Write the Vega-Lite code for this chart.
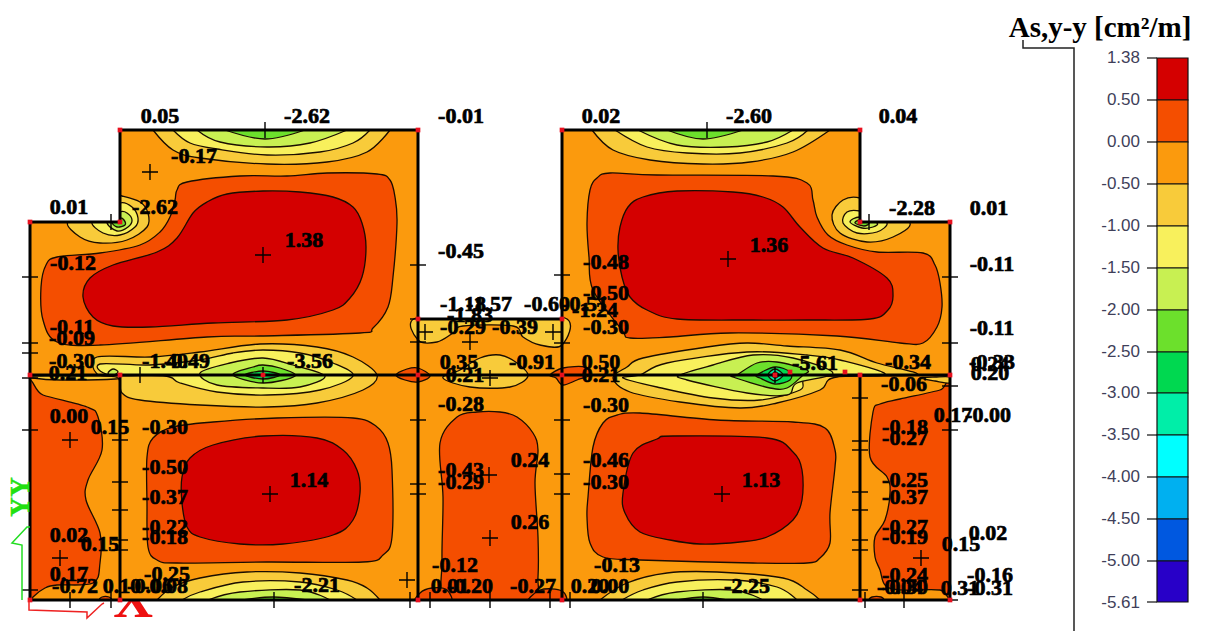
{"$schema":"https://vega.github.io/schema/vega-lite/v6.json","width":1207,"height":631,"autosize":{"type":"none"},"padding":0,"background":"#ffffff","view":{"stroke":null},
"datasets":{
"plate":[{"x":31,"x2":949,"y":131,"y2":599,"band":"0.00"}],
"mask":[{"x":0,"x2":1000,"y":0,"y2":130},{"x":0,"x2":120,"y":130,"y2":222},{"x":860,"x2":1000,"y":130,"y2":222},{"x":418,"x2":562,"y":130,"y2":319},{"x":0,"x2":30,"y":222,"y2":631},{"x":950,"x2":1000,"y":222,"y2":631},{"x":0,"x2":108,"y":600,"y2":631},{"x":156,"x2":1000,"y":600,"y2":631}],
"closed":[
{"p":"a0","band":"0.50","x":177,"y":190},{"p":"a0","band":"0.50","x":187,"y":182},{"p":"a0","band":"0.50","x":240,"y":176},{"p":"a0","band":"0.50","x":287,"y":176},{"p":"a0","band":"0.50","x":327,"y":173},{"p":"a0","band":"0.50","x":377,"y":174},{"p":"a0","band":"0.50","x":390,"y":180},{"p":"a0","band":"0.50","x":395,"y":197},{"p":"a0","band":"0.50","x":397,"y":223},{"p":"a0","band":"0.50","x":393,"y":277},{"p":"a0","band":"0.50","x":388,"y":307},{"p":"a0","band":"0.50","x":373,"y":328},{"p":"a0","band":"0.50","x":360,"y":333},{"p":"a0","band":"0.50","x":260,"y":336},{"p":"a0","band":"0.50","x":207,"y":337},{"p":"a0","band":"0.50","x":100,"y":345},{"p":"a0","band":"0.50","x":57,"y":342},{"p":"a0","band":"0.50","x":43,"y":320},{"p":"a0","band":"0.50","x":41,"y":287},{"p":"a0","band":"0.50","x":46,"y":265},{"p":"a0","band":"0.50","x":57,"y":257},{"p":"a0","band":"0.50","x":100,"y":253},{"p":"a0","band":"0.50","x":140,"y":245},{"p":"a0","band":"0.50","x":160,"y":232},{"p":"a0","band":"0.50","x":170,"y":217},{"p":"a0","band":"0.50","x":175,"y":200},
{"p":"a1","band":"1.38","x":193,"y":213},{"p":"a1","band":"1.38","x":207,"y":202},{"p":"a1","band":"1.38","x":227,"y":194},{"p":"a1","band":"1.38","x":263,"y":191},{"p":"a1","band":"1.38","x":300,"y":192},{"p":"a1","band":"1.38","x":333,"y":197},{"p":"a1","band":"1.38","x":353,"y":207},{"p":"a1","band":"1.38","x":362,"y":223},{"p":"a1","band":"1.38","x":366,"y":247},{"p":"a1","band":"1.38","x":362,"y":277},{"p":"a1","band":"1.38","x":350,"y":298},{"p":"a1","band":"1.38","x":333,"y":310},{"p":"a1","band":"1.38","x":287,"y":320},{"p":"a1","band":"1.38","x":213,"y":323},{"p":"a1","band":"1.38","x":150,"y":327},{"p":"a1","band":"1.38","x":113,"y":326},{"p":"a1","band":"1.38","x":93,"y":317},{"p":"a1","band":"1.38","x":83,"y":297},{"p":"a1","band":"1.38","x":90,"y":278},{"p":"a1","band":"1.38","x":113,"y":265},{"p":"a1","band":"1.38","x":157,"y":252},{"p":"a1","band":"1.38","x":177,"y":238},
{"p":"n1","band":"-0.50","x":68,"y":222},{"p":"n1","band":"-0.50","x":80,"y":237},{"p":"n1","band":"-0.50","x":100,"y":243},{"p":"n1","band":"-0.50","x":127,"y":240},{"p":"n1","band":"-0.50","x":147,"y":227},{"p":"n1","band":"-0.50","x":148,"y":213},{"p":"n1","band":"-0.50","x":140,"y":202},{"p":"n1","band":"-0.50","x":122,"y":196},{"p":"n1","band":"-0.50","x":112,"y":195},{"p":"n1","band":"-0.50","x":100,"y":215},
{"p":"n2","band":"-1.00","x":92,"y":222},{"p":"n2","band":"-1.00","x":103,"y":233},{"p":"n2","band":"-1.00","x":120,"y":235},{"p":"n2","band":"-1.00","x":135,"y":227},{"p":"n2","band":"-1.00","x":138,"y":218},{"p":"n2","band":"-1.00","x":132,"y":207},{"p":"n2","band":"-1.00","x":120,"y":203},{"p":"n2","band":"-1.00","x":110,"y":214},
{"p":"n3","band":"-1.50","x":107,"y":222},{"p":"n3","band":"-1.50","x":117,"y":231},{"p":"n3","band":"-1.50","x":128,"y":227},{"p":"n3","band":"-1.50","x":132,"y":220},{"p":"n3","band":"-1.50","x":127,"y":213},{"p":"n3","band":"-1.50","x":120,"y":212},
{"p":"n4","band":"-2.00","x":112,"y":222},{"p":"n4","band":"-2.00","x":117,"y":227},{"p":"n4","band":"-2.00","x":125,"y":225},{"p":"n4","band":"-2.00","x":124,"y":220},{"p":"n4","band":"-2.00","x":120,"y":218},
{"p":"s0","band":"-0.50","x":33,"y":376},{"p":"s0","band":"-0.50","x":75,"y":376},{"p":"s0","band":"-0.50","x":115,"y":376},{"p":"s0","band":"-0.50","x":115,"y":379},{"p":"s0","band":"-0.50","x":60,"y":380},{"p":"s0","band":"-0.50","x":33,"y":378},
{"p":"s1","band":"-0.50","x":97,"y":357},{"p":"s1","band":"-0.50","x":150,"y":357},{"p":"s1","band":"-0.50","x":200,"y":352},{"p":"s1","band":"-0.50","x":260,"y":344},{"p":"s1","band":"-0.50","x":317,"y":347},{"p":"s1","band":"-0.50","x":353,"y":357},{"p":"s1","band":"-0.50","x":377,"y":375},{"p":"s1","band":"-0.50","x":363,"y":390},{"p":"s1","band":"-0.50","x":317,"y":403},{"p":"s1","band":"-0.50","x":267,"y":407},{"p":"s1","band":"-0.50","x":200,"y":405},{"p":"s1","band":"-0.50","x":140,"y":400},{"p":"s1","band":"-0.50","x":122,"y":393},{"p":"s1","band":"-0.50","x":118,"y":378},{"p":"s1","band":"-0.50","x":97,"y":374},
{"p":"s2","band":"-1.00","x":100,"y":364},{"p":"s2","band":"-1.00","x":150,"y":365},{"p":"s2","band":"-1.00","x":200,"y":360},{"p":"s2","band":"-1.00","x":233,"y":353},{"p":"s2","band":"-1.00","x":263,"y":350},{"p":"s2","band":"-1.00","x":300,"y":353},{"p":"s2","band":"-1.00","x":333,"y":363},{"p":"s2","band":"-1.00","x":353,"y":376},{"p":"s2","band":"-1.00","x":320,"y":390},{"p":"s2","band":"-1.00","x":267,"y":395},{"p":"s2","band":"-1.00","x":217,"y":392},{"p":"s2","band":"-1.00","x":180,"y":383},{"p":"s2","band":"-1.00","x":165,"y":376},{"p":"s2","band":"-1.00","x":110,"y":375},
{"p":"s6","band":"-1.50","x":108,"y":373},{"p":"s6","band":"-1.50","x":113,"y":369},{"p":"s6","band":"-1.50","x":118,"y":372},{"p":"s6","band":"-1.50","x":112,"y":376},
{"p":"s3","band":"-1.50","x":200,"y":373},{"p":"s3","band":"-1.50","x":230,"y":363},{"p":"s3","band":"-1.50","x":263,"y":358},{"p":"s3","band":"-1.50","x":293,"y":365},{"p":"s3","band":"-1.50","x":325,"y":376},{"p":"s3","band":"-1.50","x":300,"y":387},{"p":"s3","band":"-1.50","x":263,"y":388},{"p":"s3","band":"-1.50","x":217,"y":385},
{"p":"s4","band":"-2.00","x":233,"y":375},{"p":"s4","band":"-2.00","x":253,"y":367},{"p":"s4","band":"-2.00","x":263,"y":365},{"p":"s4","band":"-2.00","x":280,"y":368},{"p":"s4","band":"-2.00","x":295,"y":376},{"p":"s4","band":"-2.00","x":263,"y":383},
{"p":"s5","band":"-2.50","x":245,"y":375},{"p":"s5","band":"-2.50","x":263,"y":371},{"p":"s5","band":"-2.50","x":280,"y":375},{"p":"s5","band":"-2.50","x":263,"y":379},
{"p":"b1","band":"0.50","x":396,"y":375},{"p":"b1","band":"0.50","x":407,"y":369},{"p":"b1","band":"0.50","x":418,"y":368},{"p":"b1","band":"0.50","x":430,"y":376},{"p":"b1","band":"0.50","x":418,"y":382},{"p":"b1","band":"0.50","x":405,"y":380},
{"p":"b2","band":"0.50","x":550,"y":375},{"p":"b2","band":"0.50","x":563,"y":368},{"p":"b2","band":"0.50","x":585,"y":367},{"p":"b2","band":"0.50","x":590,"y":375},{"p":"b2","band":"0.50","x":577,"y":380},{"p":"b2","band":"0.50","x":563,"y":385},{"p":"b2","band":"0.50","x":556,"y":378},
{"p":"c1","band":"-0.50","x":480,"y":358},{"p":"c1","band":"-0.50","x":500,"y":355},{"p":"c1","band":"-0.50","x":517,"y":363},{"p":"c1","band":"-0.50","x":528,"y":376},{"p":"c1","band":"-0.50","x":510,"y":387},{"p":"c1","band":"-0.50","x":470,"y":387},{"p":"c1","band":"-0.50","x":443,"y":378},{"p":"c1","band":"-0.50","x":460,"y":370},
{"p":"c2","band":"-0.50","x":416,"y":318},{"p":"c2","band":"-0.50","x":490,"y":318},{"p":"c2","band":"-0.50","x":565,"y":318},{"p":"c2","band":"-0.50","x":562,"y":345},{"p":"c2","band":"-0.50","x":540,"y":345},{"p":"c2","band":"-0.50","x":523,"y":337},{"p":"c2","band":"-0.50","x":513,"y":326},{"p":"c2","band":"-0.50","x":463,"y":326},{"p":"c2","band":"-0.50","x":453,"y":333},{"p":"c2","band":"-0.50","x":437,"y":342},{"p":"c2","band":"-0.50","x":418,"y":340},
{"p":"c3","band":"0.50","x":440,"y":443},{"p":"c3","band":"0.50","x":457,"y":417},{"p":"c3","band":"0.50","x":477,"y":412},{"p":"c3","band":"0.50","x":500,"y":412},{"p":"c3","band":"0.50","x":517,"y":417},{"p":"c3","band":"0.50","x":533,"y":433},{"p":"c3","band":"0.50","x":538,"y":450},{"p":"c3","band":"0.50","x":535,"y":483},{"p":"c3","band":"0.50","x":538,"y":537},{"p":"c3","band":"0.50","x":538,"y":577},{"p":"c3","band":"0.50","x":534,"y":604},{"p":"c3","band":"0.50","x":490,"y":610},{"p":"c3","band":"0.50","x":445,"y":604},{"p":"c3","band":"0.50","x":442,"y":560},{"p":"c3","band":"0.50","x":443,"y":497},
{"p":"c4","band":"0.50","x":416,"y":604},{"p":"c4","band":"0.50","x":420,"y":593},{"p":"c4","band":"0.50","x":432,"y":588},{"p":"c4","band":"0.50","x":447,"y":590},{"p":"c4","band":"0.50","x":450,"y":604},
{"p":"c5","band":"0.50","x":528,"y":604},{"p":"c5","band":"0.50","x":540,"y":590},{"p":"c5","band":"0.50","x":562,"y":591},{"p":"c5","band":"0.50","x":564,"y":604},
{"p":"l1","band":"0.50","x":28,"y":387},{"p":"l1","band":"0.50","x":43,"y":395},{"p":"l1","band":"0.50","x":87,"y":407},{"p":"l1","band":"0.50","x":98,"y":417},{"p":"l1","band":"0.50","x":102,"y":450},{"p":"l1","band":"0.50","x":88,"y":480},{"p":"l1","band":"0.50","x":86,"y":500},{"p":"l1","band":"0.50","x":100,"y":533},{"p":"l1","band":"0.50","x":100,"y":563},{"p":"l1","band":"0.50","x":93,"y":583},{"p":"l1","band":"0.50","x":57,"y":585},{"p":"l1","band":"0.50","x":45,"y":588},{"p":"l1","band":"0.50","x":33,"y":597},{"p":"l1","band":"0.50","x":24,"y":610},{"p":"l1","band":"0.50","x":22,"y":500},
{"p":"q1","band":"0.50","x":100,"y":600},{"p":"q1","band":"0.50","x":102,"y":597},{"p":"q1","band":"0.50","x":109,"y":597},{"p":"q1","band":"0.50","x":111,"y":600},
{"p":"q2","band":"0.50","x":870,"y":600},{"p":"q2","band":"0.50","x":872,"y":597},{"p":"q2","band":"0.50","x":881,"y":597},{"p":"q2","band":"0.50","x":883,"y":600},
{"p":"d0","band":"0.50","x":147,"y":457},{"p":"d0","band":"0.50","x":153,"y":438},{"p":"d0","band":"0.50","x":173,"y":427},{"p":"d0","band":"0.50","x":213,"y":422},{"p":"d0","band":"0.50","x":277,"y":418},{"p":"d0","band":"0.50","x":353,"y":418},{"p":"d0","band":"0.50","x":377,"y":427},{"p":"d0","band":"0.50","x":388,"y":443},{"p":"d0","band":"0.50","x":392,"y":470},{"p":"d0","band":"0.50","x":392,"y":537},{"p":"d0","band":"0.50","x":383,"y":555},{"p":"d0","band":"0.50","x":363,"y":562},{"p":"d0","band":"0.50","x":267,"y":562},{"p":"d0","band":"0.50","x":177,"y":563},{"p":"d0","band":"0.50","x":157,"y":560},{"p":"d0","band":"0.50","x":148,"y":547},{"p":"d0","band":"0.50","x":147,"y":503},
{"p":"d1","band":"1.38","x":182,"y":477},{"p":"d1","band":"1.38","x":190,"y":458},{"p":"d1","band":"1.38","x":213,"y":445},{"p":"d1","band":"1.38","x":263,"y":436},{"p":"d1","band":"1.38","x":317,"y":438},{"p":"d1","band":"1.38","x":343,"y":450},{"p":"d1","band":"1.38","x":357,"y":470},{"p":"d1","band":"1.38","x":360,"y":493},{"p":"d1","band":"1.38","x":353,"y":520},{"p":"d1","band":"1.38","x":333,"y":535},{"p":"d1","band":"1.38","x":283,"y":544},{"p":"d1","band":"1.38","x":240,"y":544},{"p":"d1","band":"1.38","x":200,"y":537},{"p":"d1","band":"1.38","x":187,"y":527},{"p":"d1","band":"1.38","x":182,"y":503},
{"p":"e0","band":"0.50","x":588,"y":497},{"p":"e0","band":"0.50","x":593,"y":447},{"p":"e0","band":"0.50","x":603,"y":423},{"p":"e0","band":"0.50","x":617,"y":415},{"p":"e0","band":"0.50","x":640,"y":413},{"p":"e0","band":"0.50","x":717,"y":420},{"p":"e0","band":"0.50","x":793,"y":422},{"p":"e0","band":"0.50","x":825,"y":428},{"p":"e0","band":"0.50","x":835,"y":450},{"p":"e0","band":"0.50","x":835,"y":467},{"p":"e0","band":"0.50","x":830,"y":513},{"p":"e0","band":"0.50","x":830,"y":543},{"p":"e0","band":"0.50","x":820,"y":558},{"p":"e0","band":"0.50","x":807,"y":563},{"p":"e0","band":"0.50","x":753,"y":563},{"p":"e0","band":"0.50","x":640,"y":560},{"p":"e0","band":"0.50","x":603,"y":557},{"p":"e0","band":"0.50","x":590,"y":543},{"p":"e0","band":"0.50","x":587,"y":517},
{"p":"e1","band":"1.38","x":623,"y":493},{"p":"e1","band":"1.38","x":633,"y":453},{"p":"e1","band":"1.38","x":657,"y":439},{"p":"e1","band":"1.38","x":673,"y":436},{"p":"e1","band":"1.38","x":767,"y":438},{"p":"e1","band":"1.38","x":793,"y":452},{"p":"e1","band":"1.38","x":802,"y":470},{"p":"e1","band":"1.38","x":802,"y":500},{"p":"e1","band":"1.38","x":793,"y":520},{"p":"e1","band":"1.38","x":767,"y":537},{"p":"e1","band":"1.38","x":740,"y":542},{"p":"e1","band":"1.38","x":700,"y":544},{"p":"e1","band":"1.38","x":670,"y":540},{"p":"e1","band":"1.38","x":640,"y":532},{"p":"e1","band":"1.38","x":625,"y":513},
{"p":"f0","band":"0.50","x":952,"y":384},{"p":"f0","band":"0.50","x":940,"y":390},{"p":"f0","band":"0.50","x":900,"y":399},{"p":"f0","band":"0.50","x":880,"y":404},{"p":"f0","band":"0.50","x":873,"y":412},{"p":"f0","band":"0.50","x":870,"y":457},{"p":"f0","band":"0.50","x":887,"y":477},{"p":"f0","band":"0.50","x":890,"y":493},{"p":"f0","band":"0.50","x":885,"y":520},{"p":"f0","band":"0.50","x":875,"y":537},{"p":"f0","band":"0.50","x":875,"y":557},{"p":"f0","band":"0.50","x":880,"y":570},{"p":"f0","band":"0.50","x":885,"y":585},{"p":"f0","band":"0.50","x":900,"y":590},{"p":"f0","band":"0.50","x":940,"y":590},{"p":"f0","band":"0.50","x":955,"y":598},{"p":"f0","band":"0.50","x":962,"y":500},
{"p":"g0","band":"0.50","x":590,"y":190},{"p":"g0","band":"0.50","x":597,"y":178},{"p":"g0","band":"0.50","x":610,"y":173},{"p":"g0","band":"0.50","x":657,"y":175},{"p":"g0","band":"0.50","x":773,"y":176},{"p":"g0","band":"0.50","x":807,"y":183},{"p":"g0","band":"0.50","x":813,"y":200},{"p":"g0","band":"0.50","x":817,"y":217},{"p":"g0","band":"0.50","x":828,"y":235},{"p":"g0","band":"0.50","x":847,"y":245},{"p":"g0","band":"0.50","x":877,"y":252},{"p":"g0","band":"0.50","x":923,"y":253},{"p":"g0","band":"0.50","x":935,"y":265},{"p":"g0","band":"0.50","x":940,"y":283},{"p":"g0","band":"0.50","x":942,"y":307},{"p":"g0","band":"0.50","x":937,"y":327},{"p":"g0","band":"0.50","x":923,"y":343},{"p":"g0","band":"0.50","x":900,"y":343},{"p":"g0","band":"0.50","x":837,"y":336},{"p":"g0","band":"0.50","x":730,"y":333},{"p":"g0","band":"0.50","x":670,"y":337},{"p":"g0","band":"0.50","x":630,"y":338},{"p":"g0","band":"0.50","x":622,"y":330},{"p":"g0","band":"0.50","x":593,"y":290},{"p":"g0","band":"0.50","x":589,"y":257},{"p":"g0","band":"0.50","x":587,"y":223},
{"p":"g1","band":"1.38","x":620,"y":227},{"p":"g1","band":"1.38","x":628,"y":207},{"p":"g1","band":"1.38","x":643,"y":197},{"p":"g1","band":"1.38","x":677,"y":191},{"p":"g1","band":"1.38","x":733,"y":192},{"p":"g1","band":"1.38","x":763,"y":197},{"p":"g1","band":"1.38","x":783,"y":207},{"p":"g1","band":"1.38","x":800,"y":227},{"p":"g1","band":"1.38","x":823,"y":248},{"p":"g1","band":"1.38","x":853,"y":258},{"p":"g1","band":"1.38","x":887,"y":278},{"p":"g1","band":"1.38","x":893,"y":295},{"p":"g1","band":"1.38","x":888,"y":310},{"p":"g1","band":"1.38","x":870,"y":319},{"p":"g1","band":"1.38","x":807,"y":320},{"p":"g1","band":"1.38","x":753,"y":320},{"p":"g1","band":"1.38","x":677,"y":319},{"p":"g1","band":"1.38","x":647,"y":310},{"p":"g1","band":"1.38","x":630,"y":297},{"p":"g1","band":"1.38","x":622,"y":277},{"p":"g1","band":"1.38","x":618,"y":250},
{"p":"m1","band":"-0.50","x":860,"y":198},{"p":"m1","band":"-0.50","x":843,"y":200},{"p":"m1","band":"-0.50","x":832,"y":215},{"p":"m1","band":"-0.50","x":840,"y":233},{"p":"m1","band":"-0.50","x":867,"y":242},{"p":"m1","band":"-0.50","x":893,"y":237},{"p":"m1","band":"-0.50","x":910,"y":223},{"p":"m1","band":"-0.50","x":880,"y":210},
{"p":"m2","band":"-1.00","x":860,"y":211},{"p":"m2","band":"-1.00","x":847,"y":212},{"p":"m2","band":"-1.00","x":843,"y":223},{"p":"m2","band":"-1.00","x":857,"y":233},{"p":"m2","band":"-1.00","x":877,"y":232},{"p":"m2","band":"-1.00","x":887,"y":223},{"p":"m2","band":"-1.00","x":870,"y":216},
{"p":"m3","band":"-1.50","x":860,"y":217},{"p":"m3","band":"-1.50","x":850,"y":222},{"p":"m3","band":"-1.50","x":862,"y":228},{"p":"m3","band":"-1.50","x":873,"y":227},{"p":"m3","band":"-1.50","x":877,"y":223},
{"p":"m4","band":"-2.00","x":860,"y":220},{"p":"m4","band":"-2.00","x":855,"y":223},{"p":"m4","band":"-2.00","x":864,"y":226},{"p":"m4","band":"-2.00","x":869,"y":223},
{"p":"r0","band":"-0.50","x":920,"y":378},{"p":"r0","band":"-0.50","x":935,"y":377},{"p":"r0","band":"-0.50","x":950,"y":377},{"p":"r0","band":"-0.50","x":950,"y":383},{"p":"r0","band":"-0.50","x":935,"y":381},
{"p":"r1","band":"-0.50","x":627,"y":367},{"p":"r1","band":"-0.50","x":643,"y":358},{"p":"r1","band":"-0.50","x":707,"y":347},{"p":"r1","band":"-0.50","x":747,"y":343},{"p":"r1","band":"-0.50","x":787,"y":346},{"p":"r1","band":"-0.50","x":840,"y":350},{"p":"r1","band":"-0.50","x":877,"y":363},{"p":"r1","band":"-0.50","x":917,"y":375},{"p":"r1","band":"-0.50","x":837,"y":377},{"p":"r1","band":"-0.50","x":820,"y":390},{"p":"r1","band":"-0.50","x":777,"y":403},{"p":"r1","band":"-0.50","x":740,"y":408},{"p":"r1","band":"-0.50","x":680,"y":402},{"p":"r1","band":"-0.50","x":630,"y":392},{"p":"r1","band":"-0.50","x":613,"y":378},
{"p":"r2","band":"-1.00","x":640,"y":375},{"p":"r2","band":"-1.00","x":667,"y":363},{"p":"r2","band":"-1.00","x":747,"y":352},{"p":"r2","band":"-1.00","x":807,"y":355},{"p":"r2","band":"-1.00","x":840,"y":360},{"p":"r2","band":"-1.00","x":885,"y":375},{"p":"r2","band":"-1.00","x":810,"y":377},{"p":"r2","band":"-1.00","x":800,"y":390},{"p":"r2","band":"-1.00","x":760,"y":400},{"p":"r2","band":"-1.00","x":713,"y":398},{"p":"r2","band":"-1.00","x":657,"y":387},{"p":"r2","band":"-1.00","x":623,"y":378},
{"p":"r3","band":"-1.50","x":680,"y":375},{"p":"r3","band":"-1.50","x":713,"y":365},{"p":"r3","band":"-1.50","x":753,"y":355},{"p":"r3","band":"-1.50","x":793,"y":358},{"p":"r3","band":"-1.50","x":833,"y":373},{"p":"r3","band":"-1.50","x":797,"y":383},{"p":"r3","band":"-1.50","x":787,"y":395},{"p":"r3","band":"-1.50","x":747,"y":393},{"p":"r3","band":"-1.50","x":687,"y":380},
{"p":"r4","band":"-2.00","x":737,"y":375},{"p":"r4","band":"-2.00","x":757,"y":363},{"p":"r4","band":"-2.00","x":777,"y":362},{"p":"r4","band":"-2.00","x":807,"y":370},{"p":"r4","band":"-2.00","x":802,"y":376},{"p":"r4","band":"-2.00","x":787,"y":388},{"p":"r4","band":"-2.00","x":770,"y":388},{"p":"r4","band":"-2.00","x":733,"y":377},
{"p":"r5","band":"-2.50","x":757,"y":375},{"p":"r5","band":"-2.50","x":775,"y":367},{"p":"r5","band":"-2.50","x":790,"y":372},{"p":"r5","band":"-2.50","x":790,"y":380},{"p":"r5","band":"-2.50","x":775,"y":384},{"p":"r5","band":"-2.50","x":760,"y":378},
{"p":"r6","band":"-3.00","x":768,"y":375},{"p":"r6","band":"-3.00","x":775,"y":369},{"p":"r6","band":"-3.00","x":783,"y":375},{"p":"r6","band":"-3.00","x":775,"y":381},
{"p":"r7","band":"-3.50","x":772,"y":375},{"p":"r7","band":"-3.50","x":775,"y":372},{"p":"r7","band":"-3.50","x":779,"y":375},{"p":"r7","band":"-3.50","x":775,"y":378}
],
"open":[
{"p":"t1","band":"-0.50","x":153,"y":130},{"p":"t1","band":"-0.50","x":173,"y":150},{"p":"t1","band":"-0.50","x":200,"y":158},{"p":"t1","band":"-0.50","x":267,"y":164},{"p":"t1","band":"-0.50","x":327,"y":162},{"p":"t1","band":"-0.50","x":367,"y":152},{"p":"t1","band":"-0.50","x":390,"y":130},
{"p":"t2","band":"-1.00","x":173,"y":130},{"p":"t2","band":"-1.00","x":190,"y":143},{"p":"t2","band":"-1.00","x":217,"y":149},{"p":"t2","band":"-1.00","x":267,"y":155},{"p":"t2","band":"-1.00","x":320,"y":152},{"p":"t2","band":"-1.00","x":353,"y":143},{"p":"t2","band":"-1.00","x":370,"y":130},
{"p":"t3","band":"-1.50","x":197,"y":130},{"p":"t3","band":"-1.50","x":220,"y":142},{"p":"t3","band":"-1.50","x":267,"y":147},{"p":"t3","band":"-1.50","x":310,"y":143},{"p":"t3","band":"-1.50","x":347,"y":130},
{"p":"t4","band":"-2.00","x":225,"y":130},{"p":"t4","band":"-2.00","x":265,"y":139},{"p":"t4","band":"-2.00","x":305,"y":130},
{"p":"u1","band":"-0.50","x":157,"y":600},{"p":"u1","band":"-0.50","x":173,"y":587},{"p":"u1","band":"-0.50","x":200,"y":578},{"p":"u1","band":"-0.50","x":247,"y":572},{"p":"u1","band":"-0.50","x":300,"y":573},{"p":"u1","band":"-0.50","x":347,"y":580},{"p":"u1","band":"-0.50","x":367,"y":588},{"p":"u1","band":"-0.50","x":380,"y":600},
{"p":"u2","band":"-1.00","x":182,"y":600},{"p":"u2","band":"-1.00","x":200,"y":592},{"p":"u2","band":"-1.00","x":243,"y":582},{"p":"u2","band":"-1.00","x":300,"y":582},{"p":"u2","band":"-1.00","x":337,"y":590},{"p":"u2","band":"-1.00","x":357,"y":600},
{"p":"u3","band":"-1.50","x":208,"y":600},{"p":"u3","band":"-1.50","x":240,"y":592},{"p":"u3","band":"-1.50","x":300,"y":590},{"p":"u3","band":"-1.50","x":330,"y":600},
{"p":"u4","band":"-2.00","x":243,"y":600},{"p":"u4","band":"-2.00","x":273,"y":597},{"p":"u4","band":"-2.00","x":307,"y":600},
{"p":"v1","band":"-0.50","x":600,"y":600},{"p":"v1","band":"-0.50","x":627,"y":583},{"p":"v1","band":"-0.50","x":667,"y":573},{"p":"v1","band":"-0.50","x":717,"y":572},{"p":"v1","band":"-0.50","x":783,"y":578},{"p":"v1","band":"-0.50","x":807,"y":590},{"p":"v1","band":"-0.50","x":820,"y":600},
{"p":"v2","band":"-1.00","x":622,"y":600},{"p":"v2","band":"-1.00","x":643,"y":590},{"p":"v2","band":"-1.00","x":677,"y":582},{"p":"v2","band":"-1.00","x":733,"y":580},{"p":"v2","band":"-1.00","x":777,"y":587},{"p":"v2","band":"-1.00","x":797,"y":600},
{"p":"v3","band":"-1.50","x":647,"y":600},{"p":"v3","band":"-1.50","x":677,"y":592},{"p":"v3","band":"-1.50","x":733,"y":590},{"p":"v3","band":"-1.50","x":763,"y":600},
{"p":"v4","band":"-2.00","x":677,"y":600},{"p":"v4","band":"-2.00","x":703,"y":597},{"p":"v4","band":"-2.00","x":727,"y":600},
{"p":"w1","band":"-0.50","x":592,"y":130},{"p":"w1","band":"-0.50","x":613,"y":150},{"p":"w1","band":"-0.50","x":650,"y":160},{"p":"w1","band":"-0.50","x":703,"y":164},{"p":"w1","band":"-0.50","x":750,"y":162},{"p":"w1","band":"-0.50","x":793,"y":152},{"p":"w1","band":"-0.50","x":830,"y":130},
{"p":"w2","band":"-1.00","x":615,"y":130},{"p":"w2","band":"-1.00","x":647,"y":147},{"p":"w2","band":"-1.00","x":687,"y":153},{"p":"w2","band":"-1.00","x":740,"y":153},{"p":"w2","band":"-1.00","x":787,"y":143},{"p":"w2","band":"-1.00","x":808,"y":130},
{"p":"w3","band":"-1.50","x":638,"y":130},{"p":"w3","band":"-1.50","x":677,"y":145},{"p":"w3","band":"-1.50","x":727,"y":147},{"p":"w3","band":"-1.50","x":767,"y":142},{"p":"w3","band":"-1.50","x":793,"y":130},
{"p":"w4","band":"-2.00","x":667,"y":130},{"p":"w4","band":"-2.00","x":703,"y":139},{"p":"w4","band":"-2.00","x":743,"y":130}
],
"beams":[{"x":30,"x2":120,"y":222,"y2":222},{"x":120,"x2":120,"y":222,"y2":130},{"x":120,"x2":418,"y":130,"y2":130},{"x":418,"x2":418,"y":130,"y2":600},{"x":418,"x2":562,"y":319,"y2":319},{"x":562,"x2":562,"y":130,"y2":600},{"x":562,"x2":860,"y":130,"y2":130},{"x":860,"x2":860,"y":130,"y2":222},{"x":860,"x2":950,"y":222,"y2":222},{"x":950,"x2":950,"y":222,"y2":600},{"x":30,"x2":950,"y":600,"y2":600},{"x":30,"x2":30,"y":222,"y2":600},{"x":30,"x2":950,"y":375,"y2":375},{"x":120,"x2":120,"y":375,"y2":600},{"x":860,"x2":860,"y":375,"y2":600}],
"marks":[
{"k":"plus","x":150,"y":172},{"k":"plus","x":263,"y":255},{"k":"plus","x":728,"y":259},{"k":"plus","x":270,"y":494},{"k":"plus","x":722,"y":494},{"k":"plus","x":70,"y":440},{"k":"plus","x":60,"y":558},{"k":"plus","x":407,"y":580},{"k":"plus","x":490,"y":538},{"k":"plus","x":489,"y":475},{"k":"plus","x":470,"y":342},{"k":"plus","x":921,"y":558},{"k":"plus","x":775,"y":375},{"k":"plus","x":263,"y":375},{"k":"plus","x":425,"y":332},{"k":"plus","x":553,"y":332},{"k":"plus","x":490,"y":378},
{"k":"h","x":30,"y":277},{"k":"h","x":30,"y":343},{"k":"h","x":30,"y":353},{"k":"h","x":30,"y":378},{"k":"h","x":30,"y":430},{"k":"h","x":30,"y":590},{"k":"h","x":120,"y":440},{"k":"h","x":120,"y":482},{"k":"h","x":120,"y":510},{"k":"h","x":120,"y":540},{"k":"h","x":120,"y":550},{"k":"h","x":418,"y":265},{"k":"h","x":418,"y":319},{"k":"h","x":418,"y":342},{"k":"h","x":418,"y":420},{"k":"h","x":418,"y":484},{"k":"h","x":418,"y":494},{"k":"h","x":562,"y":275},{"k":"h","x":562,"y":343},{"k":"h","x":562,"y":420},{"k":"h","x":562,"y":474},{"k":"h","x":562,"y":494},{"k":"h","x":860,"y":398},{"k":"h","x":860,"y":441},{"k":"h","x":860,"y":450},{"k":"h","x":860,"y":492},{"k":"h","x":860,"y":510},{"k":"h","x":860,"y":540},{"k":"h","x":860,"y":550},{"k":"h","x":860,"y":590},{"k":"h","x":950,"y":277},{"k":"h","x":950,"y":343},{"k":"h","x":950,"y":386},{"k":"h","x":950,"y":430},{"k":"h","x":950,"y":600},
{"k":"v","x":265,"y":130},{"k":"v","x":707,"y":130},{"k":"v","x":111,"y":222},{"k":"v","x":869,"y":222},{"k":"v","x":140,"y":375},{"k":"v","x":70,"y":600},{"k":"v","x":111,"y":600},{"k":"v","x":274,"y":600},{"k":"v","x":410,"y":600},{"k":"v","x":430,"y":600},{"k":"v","x":490,"y":600},{"k":"v","x":550,"y":600},{"k":"v","x":570,"y":600},{"k":"v","x":703,"y":600},{"k":"v","x":865,"y":600},{"k":"v","x":904,"y":600}],
"nodes":[{"x":120,"y":130},{"x":418,"y":130},{"x":30,"y":222},{"x":120,"y":222},{"x":418,"y":319},{"x":562,"y":130},{"x":860,"y":130},{"x":950,"y":222},{"x":860,"y":222},{"x":562,"y":319},{"x":30,"y":375},{"x":120,"y":375},{"x":263,"y":375},{"x":418,"y":375},{"x":562,"y":375},{"x":775,"y":375},{"x":860,"y":375},{"x":950,"y":375},{"x":30,"y":600},{"x":120,"y":600},{"x":418,"y":600},{"x":562,"y":600},{"x":860,"y":600},{"x":950,"y":600},{"x":790,"y":372},{"x":845,"y":372}],
"labels":[
{"t":"0.05","x":160,"y":116},{"t":"-2.62","x":307,"y":116},{"t":"-0.01","x":461,"y":116},{"t":"0.02","x":601,"y":116},{"t":"-2.60","x":749,"y":116},{"t":"0.04","x":898,"y":116},{"t":"0.01","x":69,"y":207},{"t":"-2.62","x":155,"y":207},{"t":"-0.17","x":194,"y":156},{"t":"-0.12","x":73,"y":263},{"t":"1.38","x":304,"y":240},{"t":"-0.45","x":461,"y":251},{"t":"-0.11","x":72,"y":327},{"t":"-0.09","x":72,"y":338},{"t":"-0.30","x":72,"y":361},{"t":"0.21","x":68,"y":373},{"t":"-1.40","x":165,"y":361},{"t":"-0.49","x":187,"y":361},{"t":"-3.56","x":310,"y":361},{"t":"-1.18","x":463,"y":304},{"t":"-1.57","x":489,"y":304},{"t":"-0.60","x":547,"y":304},{"t":"-0.51","x":585,"y":304},{"t":"-1.83","x":470,"y":315},{"t":"-0.29","x":463,"y":327},{"t":"-0.39","x":515,"y":327},{"t":"0.35","x":459,"y":362},{"t":"0.21","x":465,"y":375},{"t":"-0.91","x":532,"y":362},{"t":"0.50","x":601,"y":362},{"t":"0.21","x":601,"y":375},{"t":"-5.61","x":815,"y":363},{"t":"-0.34","x":908,"y":362},{"t":"1.36","x":769,"y":245},{"t":"-0.48","x":606,"y":262},{"t":"-0.50","x":606,"y":293},{"t":"-1.24","x":595,"y":310},{"t":"-0.30","x":606,"y":327},{"t":"-0.11","x":992,"y":264},{"t":"-0.11","x":992,"y":328},{"t":"0.01","x":989,"y":208},{"t":"-2.28","x":912,"y":208},{"t":"-0.33","x":992,"y":362},{"t":"0.24","x":990,"y":364},{"t":"0.20","x":990,"y":373},{"t":"-0.06","x":904,"y":384},
{"t":"0.00","x":69,"y":416},{"t":"0.15","x":110,"y":427},{"t":"-0.30","x":165,"y":427},{"t":"-0.50","x":165,"y":467},{"t":"-0.37","x":165,"y":497},{"t":"-0.22","x":165,"y":527},{"t":"-0.18","x":165,"y":537},{"t":"1.14","x":309,"y":480},{"t":"0.02","x":69,"y":535},{"t":"0.15","x":100,"y":544},{"t":"0.17","x":69,"y":574},{"t":"-0.25","x":167,"y":574},{"t":"-2.21","x":317,"y":585},{"t":"-0.72","x":75,"y":586},{"t":"0.10","x":122,"y":586},{"t":"-0.06","x":150,"y":586},{"t":"-0.08","x":165,"y":586},
{"t":"-0.28","x":461,"y":404},{"t":"-0.43","x":461,"y":470},{"t":"-0.29","x":461,"y":482},{"t":"0.24","x":530,"y":460},{"t":"0.26","x":530,"y":522},{"t":"-0.12","x":455,"y":565},{"t":"0.01","x":450,"y":586},{"t":"-0.20","x":470,"y":586},{"t":"-0.27","x":533,"y":586},
{"t":"-0.30","x":606,"y":405},{"t":"-0.46","x":606,"y":460},{"t":"-0.30","x":606,"y":482},{"t":"1.13","x":761,"y":480},{"t":"-0.13","x":617,"y":565},{"t":"0.20","x":590,"y":586},{"t":"0.00","x":610,"y":586},{"t":"-2.25","x":747,"y":586},
{"t":"-0.18","x":905,"y":427},{"t":"-0.27","x":905,"y":438},{"t":"0.17","x":953,"y":415},{"t":"-0.00","x":988,"y":415},{"t":"-0.25","x":905,"y":480},{"t":"-0.37","x":905,"y":497},{"t":"-0.27","x":905,"y":527},{"t":"-0.19","x":905,"y":537},{"t":"0.15","x":961,"y":544},{"t":"0.02","x":988,"y":533},{"t":"-0.24","x":905,"y":575},{"t":"-0.16","x":990,"y":575},{"t":"-0.30","x":905,"y":587},{"t":"-0.04","x":900,"y":587},{"t":"0.31","x":960,"y":588},{"t":"-0.31","x":990,"y":588}],
"arrowG":[{"x":22,"y":600},{"x":22,"y":545},{"x":12,"y":543},{"x":27,"y":527},{"x":30,"y":527}],
"arrowR":[{"x":29,"y":600},{"x":29,"y":610},{"x":87,"y":612},{"x":87,"y":618},{"x":102,"y":604},{"x":104,"y":603}],
"callout":[{"x":1023,"y":40},{"x":1023,"y":48},{"x":1074,"y":48},{"x":1074,"y":631}],
"scale":[{"band":"1.38","x":1157,"x2":1188,"y":58,"y2":100},{"band":"0.50","x":1157,"x2":1188,"y":100,"y2":142},{"band":"0.00","x":1157,"x2":1188,"y":142,"y2":184},{"band":"-0.50","x":1157,"x2":1188,"y":184,"y2":226},{"band":"-1.00","x":1157,"x2":1188,"y":226,"y2":268},{"band":"-1.50","x":1157,"x2":1188,"y":268,"y2":310},{"band":"-2.00","x":1157,"x2":1188,"y":310,"y2":352},{"band":"-2.50","x":1157,"x2":1188,"y":352,"y2":393},{"band":"-3.00","x":1157,"x2":1188,"y":393,"y2":435},{"band":"-3.50","x":1157,"x2":1188,"y":435,"y2":477},{"band":"-4.00","x":1157,"x2":1188,"y":477,"y2":519},{"band":"-4.50","x":1157,"x2":1188,"y":519,"y2":561},{"band":"-5.00","x":1157,"x2":1188,"y":561,"y2":602}],
"scaleLabels":[{"t":"1.38","x":1140,"y":58},{"t":"0.50","x":1140,"y":100},{"t":"0.00","x":1140,"y":142},{"t":"-0.50","x":1140,"y":184},{"t":"-1.00","x":1140,"y":226},{"t":"-1.50","x":1140,"y":268},{"t":"-2.00","x":1140,"y":310},{"t":"-2.50","x":1140,"y":352},{"t":"-3.00","x":1140,"y":393},{"t":"-3.50","x":1140,"y":435},{"t":"-4.00","x":1140,"y":477},{"t":"-4.50","x":1140,"y":519},{"t":"-5.00","x":1140,"y":561},{"t":"-5.61","x":1140,"y":603}],
"scaleTicks":[{"x":1147,"x2":1157,"y":58},{"x":1147,"x2":1157,"y":100},{"x":1147,"x2":1157,"y":142},{"x":1147,"x2":1157,"y":184},{"x":1147,"x2":1157,"y":226},{"x":1147,"x2":1157,"y":268},{"x":1147,"x2":1157,"y":310},{"x":1147,"x2":1157,"y":352},{"x":1147,"x2":1157,"y":393},{"x":1147,"x2":1157,"y":435},{"x":1147,"x2":1157,"y":477},{"x":1147,"x2":1157,"y":519},{"x":1147,"x2":1157,"y":561},{"x":1147,"x2":1157,"y":602}]
},
"encoding":{"x":{"field":"x","type":"quantitative","axis":null,"scale":{"domain":[0,1207],"nice":false,"zero":false}},"y":{"field":"y","type":"quantitative","axis":null,"scale":{"domain":[631,0],"nice":false,"zero":false}}},
"layer":[
{"data":{"values":[{"t":"X","x":133,"y":600}]},"mark":{"type":"text","font":"Liberation Serif","fontSize":55,"fontWeight":"bold","color":"#ee1111","align":"center","baseline":"middle"},"encoding":{"text":{"field":"t"}}},
{"data":{"name":"plate"},"mark":{"type":"rect"},"encoding":{"x2":{"field":"x2"},"y2":{"field":"y2"},"fill":{"field":"band","type":"nominal","legend":null,"scale":{"domain":["1.38","0.50","0.00","-0.50","-1.00","-1.50","-2.00","-2.50","-3.00","-3.50","-4.00","-4.50","-5.00"],"range":["#D40000","#F44E00","#FB9A0D","#F8CB3A","#F8F05C","#C8F052","#6CE02C","#00D850","#00EEA8","#00FFFF","#00B0F0","#0058E0","#2800C8"]}}}},
{"data":{"name":"closed"},"mark":{"type":"line","filled":true,"interpolate":"cardinal-closed","stroke":"#1a0d00","strokeWidth":1.3},"encoding":{"fill":{"field":"band","type":"nominal","legend":null},"detail":{"field":"p"},"order":{"value":null}}},
{"data":{"name":"open"},"mark":{"type":"line","filled":true,"interpolate":"cardinal","stroke":"#1a0d00","strokeWidth":1.3},"encoding":{"fill":{"field":"band","type":"nominal","legend":null},"detail":{"field":"p"},"order":{"value":null}}},
{"data":{"name":"mask"},"mark":{"type":"rect","fill":"#ffffff"},"encoding":{"x2":{"field":"x2"},"y2":{"field":"y2"}}},
{"data":{"name":"beams"},"mark":{"type":"rule","color":"#000000","strokeWidth":3},"encoding":{"x2":{"field":"x2"},"y2":{"field":"y2"}}},
{"data":{"name":"marks"},"mark":{"type":"point","filled":false,"stroke":"#000000","strokeWidth":1.4,"size":256,"opacity":1},"encoding":{"shape":{"field":"k","type":"nominal","legend":null,"scale":{"domain":["plus","h","v"],"range":["M-1,0H1M0,-1V1","M-1,0H1","M0,-1V1"]}}}},
{"data":{"name":"nodes"},"mark":{"type":"point","filled":true,"color":"#e8101e","size":22,"shape":"square","opacity":1}},
{"data":{"name":"labels"},"mark":{"type":"text","font":"Liberation Serif","fontSize":22,"fontWeight":"bold","color":"#000000","stroke":"#000000","strokeWidth":0.7,"align":"center","baseline":"middle"},"encoding":{"text":{"field":"t"}}},
{"data":{"name":"arrowG"},"mark":{"type":"line","color":"#22dd22","strokeWidth":1.5},"encoding":{"order":{"value":null}}},
{"data":{"name":"arrowR"},"mark":{"type":"line","color":"#ee2222","strokeWidth":1.5},"encoding":{"order":{"value":null}}},
{"data":{"values":[{"t":"Y","x":21,"y":487},{"t":"Y","x":21,"y":507}]},"mark":{"type":"text","font":"Liberation Serif","fontSize":27,"fontWeight":"bold","color":"#22e010","angle":270,"align":"center","baseline":"middle","stroke":"#22e010","strokeWidth":0.5},"encoding":{"text":{"field":"t"}}},
{"data":{"name":"callout"},"mark":{"type":"line","color":"#222222","strokeWidth":1.5},"encoding":{"order":{"value":null}}},
{"data":{"values":[{"t":"As,y-y [cm²/m]","x":1100,"y":28}]},"mark":{"type":"text","font":"Liberation Serif","fontSize":29,"fontWeight":"bold","color":"#000000","align":"center","baseline":"middle"},"encoding":{"text":{"field":"t"}}},
{"data":{"name":"scale"},"mark":{"type":"rect","stroke":"#111111","strokeWidth":1.2},"encoding":{"x2":{"field":"x2"},"y2":{"field":"y2"},"fill":{"field":"band","type":"nominal","legend":null}}},
{"data":{"name":"scaleTicks"},"mark":{"type":"rule","color":"#111111","strokeWidth":1.2},"encoding":{"x2":{"field":"x2"}}},
{"data":{"name":"scaleLabels"},"mark":{"type":"text","font":"Liberation Sans","fontSize":17,"color":"#3f3f5a","align":"right","baseline":"middle"},"encoding":{"text":{"field":"t"}}}
]}
